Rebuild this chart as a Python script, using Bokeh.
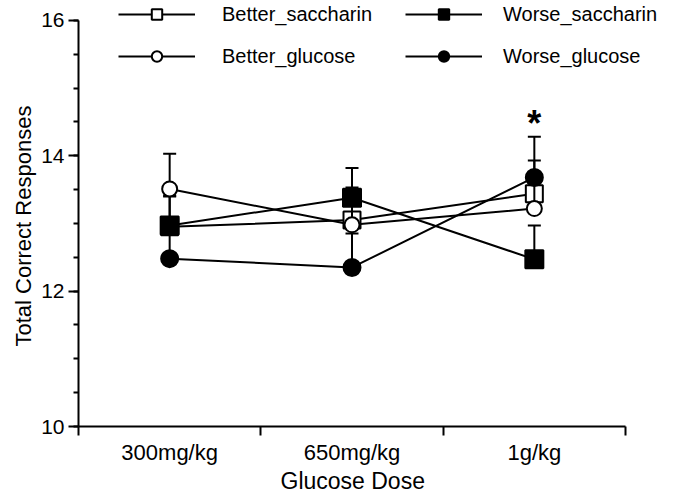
import numpy as np
from bokeh.plotting import figure
from bokeh.models import FixedTicker, Legend, LegendItem, Range1d, Title
from bokeh.core.properties import value
from bokeh.embed import file_html
from bokeh.resources import INLINE

# ---------------- data ----------------
doses = ["300mg/kg", "650mg/kg", "1g/kg"]
better_saccharin = [12.95, 13.05, 13.44]
better_saccharin_sem = [0.45, 0.48, 0.49]
worse_saccharin = [12.97, 13.38, 12.47]
worse_saccharin_sem = [0.44, 0.44, 0.50]
better_glucose = [13.51, 12.98, 13.22]
better_glucose_sem = [0.52, 0.47, 0.40]
worse_glucose = [12.48, 12.35, 13.68]
worse_glucose_sem = [0.42, 0.50, 0.60]
y_ticks = [10, 12, 14, 16]
sig_dose = ["1g/kg"]
sig_y = [14.48]
x_title = "Glucose Dose"
y_title = "Total Correct Responses"

FONT = "Liberation Sans"

# frame: left 78, bottom 428; extends to the top/right canvas edges so the
# legend (which sits above the y=16 line) is not clipped.
Y0, Y1 = 10, 16
X0, X1 = 0, 3
px_per_y = 408 / (Y1 - Y0)
px_per_x = 547 / (X1 - X0)

p = figure(width=688, height=495, output_backend="svg", toolbar_location=None,
           x_range=Range1d(X0, X1 + 63 / px_per_x),
           y_range=Range1d(Y0, Y1 + 20 / px_per_y),
           min_border_left=78, min_border_right=0, min_border_top=0,
           min_border_bottom=67)
p.grid.visible = False
p.outline_line_color = None
p.background_fill_color = "white"

xs = np.arange(len(doses)) + 0.5

# ---------------- axes ----------------
xa = p.xaxis[0]
xa.bounds = (X0, X1)
xa.ticker = FixedTicker(ticks=[float(v) for v in xs],
                        minor_ticks=[float(v) for v in np.arange(len(doses) + 1)])
xa.major_label_overrides = {float(v): d for v, d in zip(xs, doses)}
xa.major_tick_line_color = None
xa.major_tick_out = 9
xa.major_tick_in = 0
xa.minor_tick_out = 9
xa.minor_tick_in = 0
xa.minor_tick_line_color = "black"
xa.minor_tick_line_width = 2
xa.axis_line_width = 2
xa.axis_line_color = "black"
xa.major_label_standoff = 4
xa.major_label_text_font = FONT
xa.major_label_text_font_size = "22px"
xa.major_label_text_color = "black"

ya = p.yaxis[0]
ya.bounds = (Y0, Y1)
ya.ticker = FixedTicker(ticks=y_ticks,
                        minor_ticks=[float(v) for v in np.arange(10, 16.01, 0.5)])
ya.major_tick_out = 10
ya.major_tick_in = 0
ya.minor_tick_out = 5
ya.minor_tick_in = 0
ya.major_tick_line_width = 2
ya.minor_tick_line_width = 2
ya.major_tick_line_color = "black"
ya.minor_tick_line_color = "black"
ya.axis_line_width = 2
ya.axis_line_color = "black"
ya.major_label_standoff = 4
ya.major_label_text_font = FONT
ya.major_label_text_font_size = "21px"
ya.major_label_text_color = "black"

# axis titles, positioned along the bounded axes
p.add_layout(Title(text=x_title, align="left", offset=202, standoff=0,
                   vertical_align="top",
                   text_font=FONT, text_font_size="23px",
                   text_font_style="normal", text_color="black"), "below")
p.add_layout(Title(text=y_title, align="left", offset=80, standoff=6,
                   text_font=FONT, text_font_size="22px",
                   text_font_style="normal", text_color="black"), "left")

# ---------------- series ----------------
series = [
    ("Better_saccharin", better_saccharin, better_saccharin_sem, "square", "white", 17),
    ("Worse_saccharin", worse_saccharin, worse_saccharin_sem, "square", "black", 18),
    ("Better_glucose", better_glucose, better_glucose_sem, "circle", "white", 15),
    ("Worse_glucose", worse_glucose, worse_glucose_sem, "circle", "black", 17),
]

items = {}
for name, mean, sem, marker, fill, size in series:
    mean = np.array(mean)
    upper = mean + np.array(sem)
    lr = p.line(xs, mean, line_color="black", line_width=2)
    p.segment(x0=xs, y0=mean, x1=xs, y1=upper, line_color="black", line_width=2)
    p.scatter(xs, upper, marker="dash", size=13, line_color="black", line_width=2)
    sr = p.scatter(xs, mean, marker=marker, size=size, fill_color=fill,
                   line_color="black", line_width=2)
    items[name] = LegendItem(label=name, renderers=[lr, sr])

# significance marker
sig_x = [float(xs[doses.index(d)]) for d in sig_dose]
p.text(sig_x, sig_y, text=["*"], text_font=value(FONT), text_font_size="36px",
       text_font_style="bold", text_align="center", text_baseline="alphabetic",
       text_color="black")

# ---------------- legends ----------------
def make_legend(names, vx, standoff):
    lg = Legend(items=[items[n] for n in names], location=(vx, 357),
                orientation="vertical", glyph_width=77, glyph_height=26,
                label_height=26, spacing=16, padding=0, margin=0,
                label_standoff=standoff, border_line_color=None,
                background_fill_alpha=0, label_text_font=FONT,
                label_text_font_size="20px", label_text_color="black",
                label_text_baseline="middle")
    return lg

p.add_layout(make_legend(["Better_saccharin", "Better_glucose"], 40, 27), "center")
p.add_layout(make_legend(["Worse_saccharin", "Worse_glucose"], 327, 21), "center")

open("out.html", "w").write(file_html(p, INLINE))
